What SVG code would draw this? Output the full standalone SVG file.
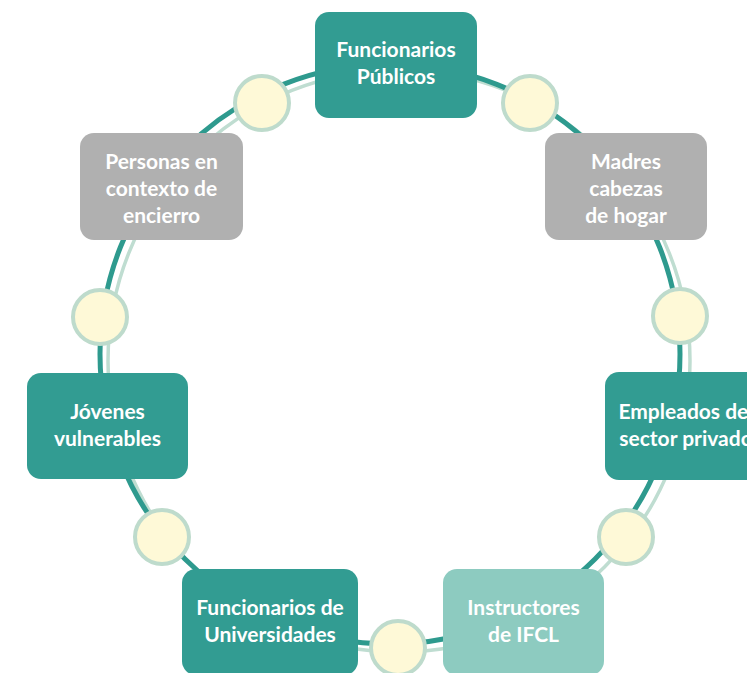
<svg xmlns="http://www.w3.org/2000/svg" width="747" height="673" viewBox="0 0 747 673">
<style>
.node{stroke:none}
.dk{fill:#329C92}
.gy{fill:#B0B0B0}
.lt{fill:#8DCBC0}
.lbl{font-family:Lato,"Open Sans","Liberation Sans",sans-serif;font-weight:bold;font-size:21px;fill:#FFFFFF;text-anchor:middle}
.dot{fill:#FEF9D7;stroke:#BEDBCC;stroke-width:4}
</style>
<rect width="747" height="673" fill="#FFFFFF"/>
<g id="connectors">
<circle cx="399" cy="361" r="291" fill="none" stroke="#BFDDD1" stroke-width="3.5"/>
<circle cx="390" cy="354" r="290" fill="none" stroke="#2E9A8E" stroke-width="5"/>
<circle class="dot" cx="262" cy="103" r="27"/>
<circle class="dot" cx="530" cy="103" r="27"/>
<circle class="dot" cx="680" cy="316" r="27"/>
<circle class="dot" cx="626" cy="537" r="27"/>
<circle class="dot" cx="398" cy="648" r="27"/>
<circle class="dot" cx="162" cy="537" r="27"/>
<circle class="dot" cx="100" cy="317" r="27"/>
</g>
<g id="node-funcionarios-publicos">
<rect class="node dk" x="315" y="12" width="162" height="106" rx="14"/>
<text class="lbl" x="396" y="57">Funcionarios</text>
<text class="lbl" x="396" y="84">Públicos</text>
</g>
<g id="node-madres">
<rect class="node gy" x="545" y="133" width="162" height="107" rx="14"/>
<text class="lbl" x="626" y="169">Madres</text>
<text class="lbl" x="626" y="196">cabezas</text>
<text class="lbl" x="626" y="223">de hogar</text>
</g>
<g id="node-empleados">
<rect class="node dk" x="605" y="372" width="162" height="108" rx="14"/>
<text class="lbl" x="686" y="419">Empleados del</text>
<text class="lbl" x="686" y="446">sector privado</text>
</g>
<g id="node-instructores">
<rect class="node lt" x="443" y="569" width="161" height="106" rx="14"/>
<text class="lbl" x="523.5" y="615">Instructores</text>
<text class="lbl" x="523.5" y="642">de IFCL</text>
</g>
<g id="node-universidades">
<rect class="node dk" x="182" y="569" width="176" height="106" rx="14"/>
<text class="lbl" x="270" y="615">Funcionarios de</text>
<text class="lbl" x="270" y="642">Universidades</text>
</g>
<g id="node-jovenes">
<rect class="node dk" x="27" y="373" width="161" height="106" rx="14"/>
<text class="lbl" x="107.5" y="419">Jóvenes</text>
<text class="lbl" x="107.5" y="446">vulnerables</text>
</g>
<g id="node-personas">
<rect class="node gy" x="80" y="133" width="163" height="107" rx="14"/>
<text class="lbl" x="161.5" y="169">Personas en</text>
<text class="lbl" x="161.5" y="196">contexto de</text>
<text class="lbl" x="161.5" y="223">encierro</text>
</g>
</svg>
